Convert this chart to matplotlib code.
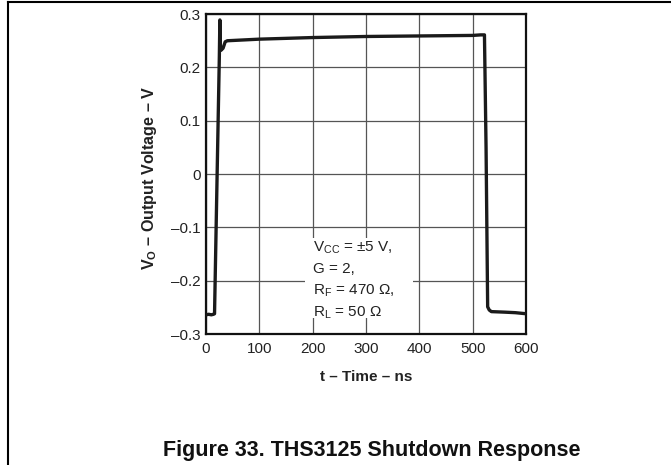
import matplotlib.pyplot as plt
from matplotlib.lines import Line2D
from matplotlib.patches import Rectangle

plt.rcParams['font.family'] = ['Liberation Sans', 'DejaVu Sans']
plt.rcParams['mathtext.fontset'] = 'custom'
plt.rcParams['mathtext.rm'] = 'Liberation Sans'
plt.rcParams['mathtext.bf'] = 'Liberation Sans:bold'

# scope trace: time in ns, output in V
time_ns = [0, 5, 10, 14, 16, 19, 22, 25, 26, 27, 28, 32, 36, 40,
           100, 200, 300, 400, 500, 515, 522, 525, 528, 531, 535,
           560, 580, 600]
v_out = [-0.264, -0.263, -0.264, -0.263, -0.262, -0.10, 0.06, 0.22, 0.289, 0.24,
         0.232, 0.236, 0.248, 0.250,
         0.253, 0.256, 0.258, 0.259, 0.260, 0.261, 0.261, 0.05, -0.249,
         -0.255, -0.258, -0.259, -0.260, -0.262]

x_ticks = [0, 100, 200, 300, 400, 500, 600]
y_ticks = [-0.3, -0.2, -0.1, 0, 0.1, 0.2, 0.3]
y_tick_labels = ['\u20130.3', '\u20130.2', '\u20130.1', '0', '0.1', '0.2', '0.3']

conditions = ['V$_{\\mathrm{CC}}$ = \u00b15 V,', 'G = 2,',
              'R$_{\\mathrm{F}}$ = 470 \u03a9,', 'R$_{\\mathrm{L}}$ = 50 \u03a9']

fig = plt.figure(figsize=(6.71, 4.65), dpi=100)
ax = fig.add_axes([0.307, 0.2817, 0.477, 0.688])

ax.plot(time_ns, v_out, color='#1a1a1a', lw=2.4, zorder=3,
        solid_joinstyle='round')

ax.set_xlim(0, 600)
ax.set_ylim(-0.3, 0.3)
ax.set_xticks(x_ticks)
ax.set_xticklabels([str(t) for t in x_ticks])
ax.set_yticks(y_ticks)
ax.set_yticklabels(y_tick_labels)
ax.tick_params(length=0, labelsize=11, labelcolor='#222222')
ax.tick_params(axis='x', pad=6)
ax.tick_params(axis='y', pad=4)
ax.set_axisbelow(True)
ax.grid(True, color='#555555', lw=0.9)
for s in ax.spines.values():
    s.set_linewidth(1.6)
    s.set_color('#111111')

# white box behind the test conditions
ax.add_patch(Rectangle((0.309, 0.05), 0.338, 0.25, transform=ax.transAxes,
                       facecolor='white', edgecolor='none', zorder=1))
for i, line in enumerate(conditions):
    ax.text(0.333, 0.257 - i * 0.0669, line, transform=ax.transAxes,
            fontsize=11, va='baseline', ha='left', color='#222222', zorder=4)

ax.text(-0.177, 0.488, '$\\mathbf{V_O}$ \u2013 Output Voltage \u2013 V',
        transform=ax.transAxes, rotation=90, ha='center', va='center',
        fontsize=11.6, fontweight='bold', color='#222222')
ax.text(0.5, -0.134, 't \u2013 Time \u2013 ns', transform=ax.transAxes,
        ha='center', va='center', fontsize=11, fontweight='bold',
        color='#222222')

fig.text(0.554, 0.032, 'Figure 33. THS3125 Shutdown Response', ha='center',
         va='center', fontsize=15.5, fontweight='bold', color='#111111')

# page frame lines
fig.add_artist(Line2D([8 / 671, 1], [1 - 2 / 465, 1 - 2 / 465],
                      color='black', lw=1.5))
fig.add_artist(Line2D([8 / 671, 8 / 671], [0, 1 - 2 / 465],
                      color='black', lw=1.5))

fig.savefig('out.png', dpi=100)
